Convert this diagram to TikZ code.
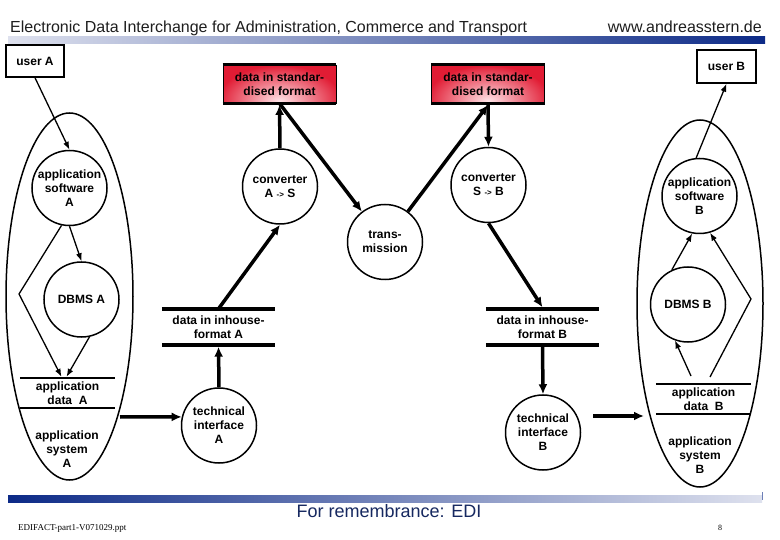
\documentclass[tikz,border=0pt]{standalone}
\usepackage{fontspec}
\setmainfont{Liberation Sans}
\newfontfamily\footserif{Liberation Serif}
\usetikzlibrary{shapes.geometric,arrows.meta}
\definecolor{navy}{RGB}{22,40,96}
\definecolor{bardark}{RGB}{12,42,135}
\definecolor{barlight}{RGB}{222,225,238}
\definecolor{mred}{RGB}{225,28,52}
\definecolor{mpink}{RGB}{255,228,232}
\definecolor{headgray}{RGB}{30,30,30}
\begin{document}
\begin{tikzpicture}[x=1pt,y=-1pt,
  lbl/.style={font=\bfseries\fontsize{12}{14}\selectfont, align=center, text=black},
  circ/.style={circle, draw, line width=1.5pt, minimum size=75pt, inner sep=0pt, fill=white, lbl},
  egg/.style={ellipse, draw, line width=1.5pt, inner sep=0pt},
  userbox/.style={draw, line width=1.5pt, inner sep=0pt, lbl},
  stdbox/.style={draw, line width=0.8pt, inner sep=0pt, minimum width=113pt, minimum height=38pt, lbl,
    path picture={
      \fill[mred] (path picture bounding box.south west) rectangle (path picture bounding box.north east);
      \shade[inner color=mpink, outer color=mred] ([yshift=2pt]path picture bounding box.south) ellipse [x radius=62pt, y radius=36pt];
    }},
  store/.style={inner sep=0pt, lbl},
  thinarr/.style={line width=1.3pt, -{Latex[length=8pt,width=6pt]}},
  thickarr/.style={line width=3.5pt, -{Latex[length=10pt,width=9pt]}},
]
\useasboundingbox (0,0) rectangle (780,540);
\fill[white] (0,0) rectangle (780,540);

% header
\node[anchor=base west, inner sep=0pt, text=headgray, font=\fontsize{16}{18}\selectfont] (head) at (10,33) {Electronic Data Interchange for Administration, Commerce and Transport};
\node[anchor=base east, inner sep=0pt, text=headgray, font=\fontsize{16}{18}\selectfont] (www) at (762,33) {www.andreasstern.de};
\shade[left color=barlight, right color=bardark] (8,37) rectangle (765,44);

% footer
\shade[left color=bardark, right color=barlight] (8,495) rectangle (762,502);
\draw[line width=1pt, bardark!60] (762,492) -- (762,500);
\node[inner sep=0pt, text=navy, font=\fontsize{18}{20}\selectfont] (title) at (389,511) {For remembrance: EDI};
\node[anchor=base west, inner sep=0pt, font=\footserif\fontsize{9}{10}\selectfont] (file) at (18,530) {EDIFACT-part1-V071029.ppt};
\node[anchor=base, inner sep=0pt, font=\footserif\fontsize{8}{9}\selectfont] (page) at (720,530) {8};

% enclosing eggs
\node[egg, minimum width=127pt, minimum height=367pt] (ellA) at (69.5,296.5) {};
\node[egg, minimum width=126pt, minimum height=367pt] (ellB) at (700,303.5) {};

% users
\node[userbox, minimum width=58pt, minimum height=32pt] (userA) at (35,61) {user A};
\node[userbox, minimum width=59pt, minimum height=33pt] (userB) at (726.5,66.5) {user B};

% standardised format boxes
\node[stdbox] (stdA) at (279.5,84) {data in standar-\\dised format};
\node[stdbox] (stdB) at (488,84) {data in standar-\\dised format};
\foreach \b in {stdA,stdB}{
  \draw[line width=3pt] (\b.north west) -- (\b.north east);
  \draw[line width=3pt] (\b.south west) -- (\b.south east);
}

% circles
\node[circ] (appA) at (69.5,188) {application\\software\\A};
\node[circ] (dbmsA) at (81.5,299.5) {DBMS A};
\node[circ] (convA) at (280,186.5) {converter\\A {\fontsize{8}{8}\selectfont-{>}} S};
\node[circ] (trans) at (385,242) {trans-\\mission};
\node[circ] (convB) at (488.5,185) {converter\\S {\fontsize{8}{8}\selectfont-{>}} B};
\node[circ] (appB) at (699.5,196) {application\\software\\B};
\node[circ] (dbmsB) at (688,304.5) {DBMS B};
\node[circ] (techA) at (219,425.5) {technical\\interface\\A};
\node[circ] (techB) at (543,432.5) {technical\\interface\\B};

% data stores
\node[store, minimum width=113pt, minimum height=36pt] (dinA) at (218.5,327) {data in inhouse-\\format A};
\node[store, minimum width=113pt, minimum height=36pt] (dinB) at (542.5,327) {data in inhouse-\\format B};
\node[store, minimum width=95pt, minimum height=30pt] (appdA) at (67.5,393) {application\\data\ \ A};
\node[store, minimum width=95pt, minimum height=30pt] (appdB) at (703.5,399) {application\\data\ \ B};
\node[store] (sysA) at (67,449) {application\\system\\A};
\node[store] (sysB) at (700,455) {application\\system\\B};
\foreach \s in {dinA,dinB}{
  \draw[line width=3.5pt] (\s.north west) -- (\s.north east);
  \draw[line width=3.5pt] (\s.south west) -- (\s.south east);
}
\foreach \s in {appdA,appdB}{
  \draw[line width=2.2pt] (\s.north west) -- (\s.north east);
  \draw[line width=2.2pt] (\s.south west) -- (\s.south east);
}

% helper coordinates
\coordinate (kA) at (19,294);
\coordinate (kB) at (751,299);
\coordinate (sA) at (120,417);
\coordinate (sB) at (593,416);
\coordinate (eB) at (644,416);
\coordinate (b1) at (691,376);
\coordinate (b2) at (710,377);

% thin arrows, side A
\draw[thinarr] (userA.south) -- (appA.north);
\draw[thinarr] (appA.south) -- (dbmsA.north);
\draw[thinarr] (appA.258) -- (kA) -- ([xshift=-6pt,yshift=1pt]appdA.north);
\draw[thinarr] (dbmsA.282) -- ([xshift=-1pt,yshift=1pt]appdA.north);

% thin arrows, side B
\draw[thinarr] (b1) -- (dbmsB.250);
\draw[thinarr] (b2) -- (kB) -- (appB.286);
\draw[thinarr] (dbmsB.115) -- (appB.259);
\draw[thinarr] (appB.95) -- (userB.south);

% thick arrows
\draw[thickarr] (sA) -- (techA.167);
\draw[thickarr] (techA.north) -- ([yshift=-1.5pt]dinA.south);
\draw[thickarr] (dinA.north) -- (convA.south);
\draw[thickarr] (convA.north) -- ([yshift=-1.5pt]stdA.south);
\draw[thickarr] (stdA.south) -- (trans);
\draw[thickarr] (trans) -- ([yshift=-1.5pt]stdB.south);
\draw[thickarr] (stdB.south) -- (convB.north);
\draw[thickarr] (convB.south) -- ([yshift=1.5pt]dinB.north);
\draw[thickarr] (dinB.south) -- (techB.north);
\draw[thickarr] (sB) -- (eB);
\end{tikzpicture}
\end{document}
